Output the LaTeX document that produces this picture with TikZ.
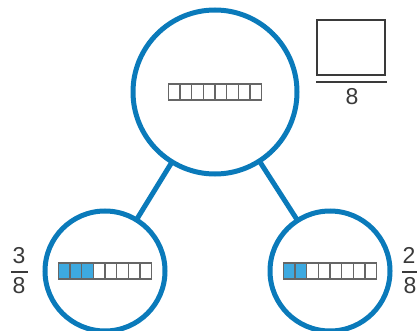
\documentclass[tikz,border=0pt]{standalone}
\usepackage{fontspec}
\setmainfont{Liberation Sans}
\usetikzlibrary{positioning}

\definecolor{ringblue}{HTML}{0A7ABA}
\definecolor{cellblue}{HTML}{3DA9E0}
\definecolor{inkgray}{HTML}{3A3A3A}
\definecolor{cellgray}{HTML}{666666}

\tikzset{
  bubble/.style={circle, draw=ringblue, line width=5pt, inner sep=0pt, outer sep=0pt},
  link/.style={draw=ringblue, line width=5pt},
  digit/.style={inner sep=0pt, text=inkgray, font=\fontsize{23}{26}\selectfont},
  fracline/.style={draw=inkgray, line width=1.8pt},
  cell/.style={draw=cellgray, line width=1.3pt},
}

% row of eight cells round a centre, #2 of them shaded
\newcommand{\cellrow}[2]{%
  \begin{scope}[shift={(#1)}]
    \foreach \i in {1,...,8}{
      \ifnum\i>#2 \def\cfill{white}\else\def\cfill{cellblue}\fi
      \draw[cell, fill=\cfill] ({-46.5+(\i-1)*11.625},-8) rectangle +(11.625,16);
    }
  \end{scope}%
}

\begin{document}
\begin{tikzpicture}[x=1pt, y=-1pt]

    \useasboundingbox (0,0) rectangle (417,331);

    % Define nodes
    \node[bubble, minimum size=164pt]  (whole) at (215,92)  {};
    \node[bubble, minimum size=120pt]  (left)  at (105,271) {};
    \node[bubble, minimum size=120pt]  (right) at (330,271) {};

    % Connect the nodes
    \draw[link] (whole) -- (left);
    \draw[link] (whole) -- (right);

    % Cell rows
    \cellrow{whole}{0}
    \cellrow{left}{3}
    \cellrow{right}{2}

    % Fractions
    \node[digit] (num3) at (19,255.5) {3};
    \node[digit] (den3) at (19,285.5) {8};
    \draw[fracline] (11,272) -- (28,272);

    \node[digit] (num2) at (409,255.5) {2};
    \node[digit] (den2) at (410,285.5) {8};
    \draw[fracline] (402,272) -- (419,272);

    % Answer box
    \node[draw=inkgray, line width=1.8pt, minimum width=68pt, minimum height=55pt, inner sep=0pt] (answer) at (351,47.5) {};
    \draw[fracline] (316,82) -- (387,82);
    \node[digit] (den0) at (352,97) {8};

  \end{tikzpicture}
\end{document}
